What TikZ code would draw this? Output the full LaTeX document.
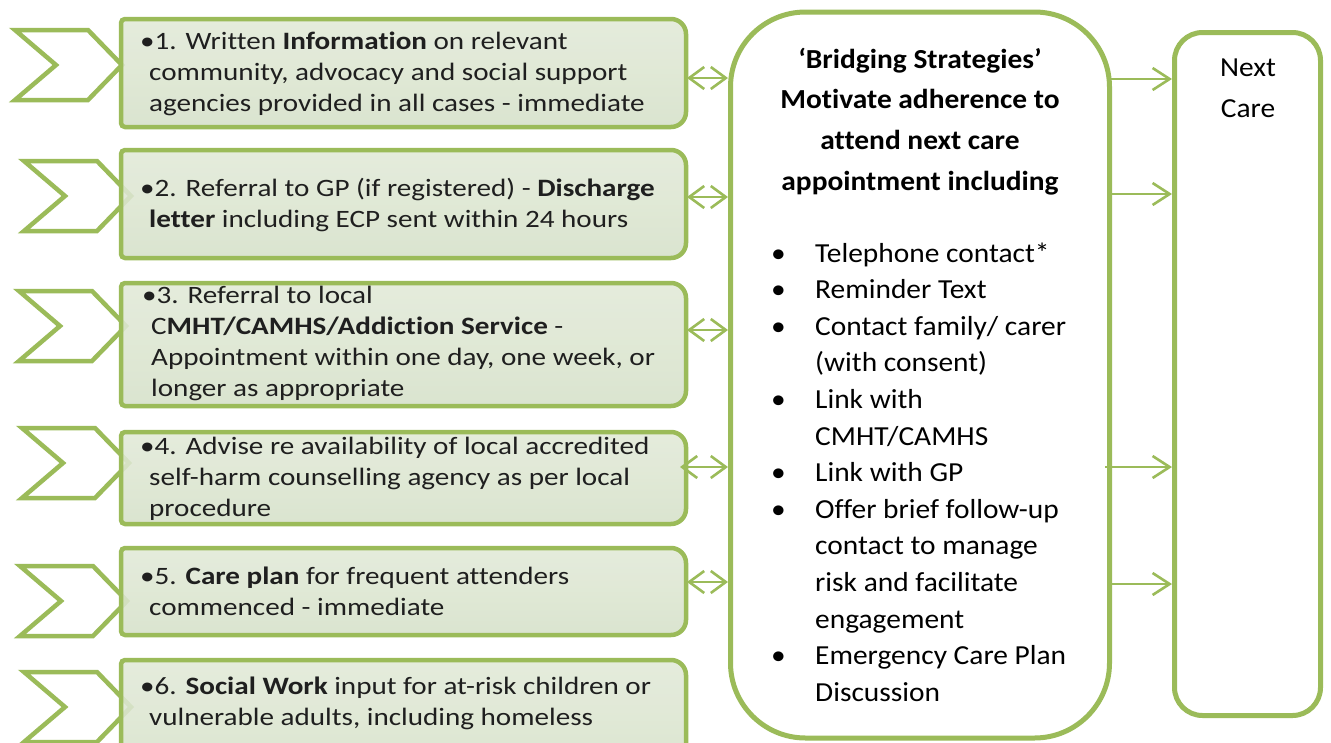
\documentclass[tikz,border=0pt]{standalone}
\usepackage{fontspec}
\setmainfont[Ligatures=NoCommon]{Carlito}
\newfontfamily\leftfont[FakeStretch=1.165,Ligatures=NoCommon]{Carlito}
\newfontfamily\midfont[FakeStretch=1.07,Ligatures=NoCommon]{Carlito}
\usetikzlibrary{arrows.meta}
\definecolor{gborder}{HTML}{9BBB59}
\definecolor{gtop}{HTML}{E2EAD8}
\definecolor{gbot}{HTML}{D6E1C9}
\tikzset{
  chev/.style={draw=gborder, line width=4.5pt, fill=white, line join=miter},
  gboxstyle/.style={draw=gborder, line width=4.5pt, top color=gtop, bottom color=gbot, fill opacity=0.88},
  ltext/.style={inner sep=0pt, anchor=base west, font=\leftfont\fontsize{25}{31}\selectfont, text=black!88},
  bigbox/.style={draw=gborder, line width=5pt, fill=white},
  dblarr/.style={{Straight Barb[length=15pt,width=22pt]}-{Straight Barb[length=15pt,width=22pt]}, draw=gborder, line width=2.6pt},
  rarr/.style={-{Straight Barb[length=17pt,width=22pt]}, draw=gborder, line width=2.6pt},
  mtext/.style={inner sep=0pt, font=\midfont\fontsize{27.5}{36.6}\selectfont}
}
\newcommand\chevron[2]{\draw[chev] (#1,#2-35) -- (#1+73,#2-35) -- (#1+107,#2) -- (#1+73,#2+35) -- (#1,#2+35) -- (#1+41,#2) -- cycle;}
\newcommand\greenbox[4]{\path[gboxstyle] (#1,#4-4) -- (#1,#2+4) arc[start angle=180,end angle=270,radius=4] -- (#3-15,#2) arc[start angle=270,end angle=360,radius=15] -- (#3,#4-15) arc[start angle=0,end angle=90,radius=15] -- (#1+4,#4) arc[start angle=90,end angle=180,radius=4] -- cycle;}
\newcommand\ci{\hspace*{9pt}}
\begin{document}
\begin{tikzpicture}[x=1pt,y=-1pt]
\useasboundingbox (0,0) rectangle (1331,742);
\fill[white] (0,0) rectangle (1331,742);
% chevrons
\chevron{15}{65}
\chevron{24}{196}
\chevron{19}{326}
\chevron{22}{463}
\chevron{20}{601}
\chevron{24}{707}
% green boxes
\greenbox{121}{19}{686}{127}
\greenbox{121}{150}{686}{258}
\greenbox{121}{283}{686}{406}
\greenbox{121}{432}{686}{524}
\greenbox{121}{548}{686}{635}
\greenbox{121}{660}{686}{780}
% box texts
\node[ltext] (t1) at (140,49) {\parbox[t]{600pt}{\raggedright
 \textbullet 1. Written \textbf{Information} on relevant\\
 \ci community, advocacy and social support\\
 \ci agencies provided in all cases - immediate}};
\node[ltext] (t2) at (140,196) {\parbox[t]{600pt}{\raggedright
 \textbullet 2. Referral to GP (if registered) - \textbf{Discharge}\\
 \ci\textbf{letter} including ECP sent within 24 hours}};
\node[ltext] (t3) at (142,303) {\parbox[t]{600pt}{\raggedright
 \textbullet 3. Referral to local\\
 \ci C\textbf{MHT/CAMHS/Addiction Service} -\\
 \ci Appointment within one day, one week, or\\
 \ci longer as appropriate}};
\node[ltext] (t4) at (140,454) {\parbox[t]{600pt}{\raggedright
 \textbullet 4. Advise re availability of local accredited\\
 \ci self-harm counselling agency as per local\\
 \ci procedure}};
\node[ltext] (t5) at (140,584) {\parbox[t]{600pt}{\raggedright
 \textbullet 5. \textbf{Care plan} for frequent attenders\\
 \ci commenced - immediate}};
\node[ltext] (t6) at (140,694) {\parbox[t]{600pt}{\raggedright
 \textbullet 6. \textbf{Social Work} input for at-risk children or\\
 \ci vulnerable adults, including homeless}};
% middle box
\node[bigbox, rounded corners=75pt, minimum width=379pt, minimum height=726pt, inner sep=0pt] (mid) at (920,375) {};
\node[mtext, anchor=base] (head) at (920,68) {\parbox[t]{380pt}{\centering\bfseries\fontsize{27.5}{40.7}\selectfont
 ‘Bridging Strategies’\\ Motivate adherence to\\ attend next care\\ appointment including}};
\node[mtext, anchor=base west] (list) at (771,262) {\parbox[t]{330pt}{\raggedright
 \makebox[44pt][l]{\textbullet}Telephone contact*\\
 \makebox[44pt][l]{\textbullet}Reminder Text\\
 \makebox[44pt][l]{\textbullet}Contact family/ carer\\
 \hspace*{44pt}(with consent)\\
 \makebox[44pt][l]{\textbullet}Link with\\
 \hspace*{44pt}CMHT/CAMHS\\
 \makebox[44pt][l]{\textbullet}Link with GP\\
 \makebox[44pt][l]{\textbullet}Offer brief follow-up\\
 \hspace*{44pt}contact to manage\\
 \hspace*{44pt}risk and facilitate\\
 \hspace*{44pt}engagement\\
 \makebox[44pt][l]{\textbullet}Emergency Care Plan\\
 \hspace*{44pt}Discussion}};
% right box
\node[bigbox, rounded corners=28pt, minimum width=146pt, minimum height=683pt, inner sep=0pt] (next) at (1247.5,374) {};
\node[mtext, anchor=base] (nexttext) at (1248,76) {\parbox[t]{140pt}{\centering\fontsize{27.5}{41}\selectfont Next\\ Care}};
% double arrows
\coordinate (a1) at (687,78);
\coordinate (a2) at (687,197);
\coordinate (a3) at (687,330);
\coordinate (a4) at (680,467);
\coordinate (a5) at (687,582);
\foreach \a in {a1,a2,a3,a4,a5} \draw[dblarr] (\a) -- (mid.west |- \a);
% right arrows
\coordinate (r1) at (1111,79);
\coordinate (r2) at (1111,194);
\coordinate (r3) at (1105,467);
\coordinate (r4) at (1111,584);
\foreach \r in {r1,r2,r3,r4} \draw[rarr] (\r) -- (next.west |- \r);
\end{tikzpicture}
\end{document}
